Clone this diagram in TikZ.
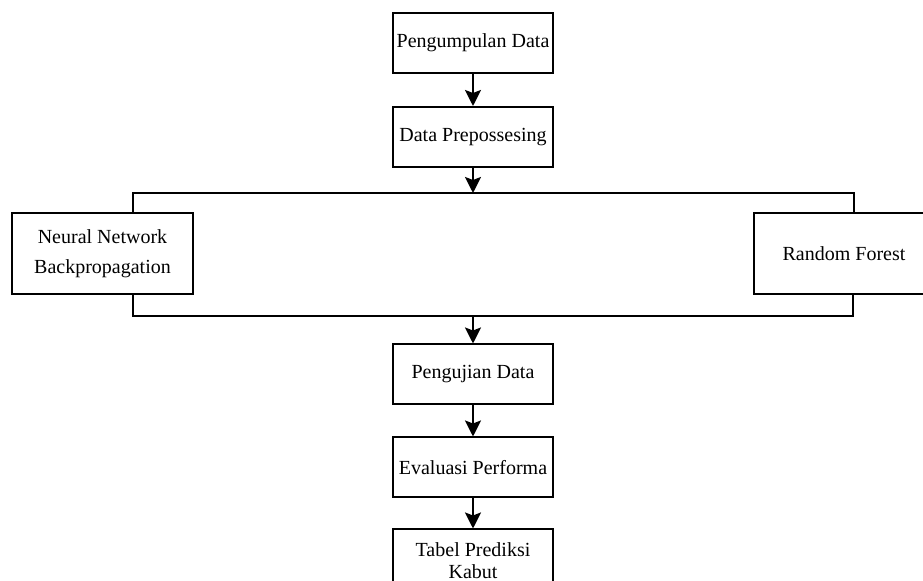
\documentclass[tikz,border=0pt]{standalone}
\usepackage{fontspec}
\setmainfont{Liberation Serif}
\usetikzlibrary{positioning,arrows.meta}

\begin{document}
\begin{tikzpicture}[x=0.5pt, y=-0.5pt, node distance=16pt,
  box/.style={draw, line width=1pt, minimum width=80pt, minimum height=30pt, align=center, inner sep=2pt, font=\fontsize{10}{15}\selectfont},
  garis/.style={line width=1pt},
  panah/.style={line width=1pt, -{Stealth[length=8pt, width=8pt, inset=1.5pt]}}]
  \useasboundingbox (0,0) rectangle (923,581);
  \node(kumpul)[box] at (473,43) {Pengumpulan Data};
  \node(prep)[box, below=of kumpul] {Data Prepossesing};
  \node(nn)[box, minimum width=90.5pt, minimum height=40.5pt] at (102.5,253.5) {Neural Network\\Backpropagation};
  \node(rf)[box, minimum width=90pt, minimum height=40.5pt] at (844,253.5) {Random Forest};
  \node(uji)[box] at (473,374.5) {Pengujian Data};
  \node(eval)[box, below=15.5pt of uji] {Evaluasi Performa};
  \node(tabel)[box, minimum height=31pt, below=15pt of eval, font=\fontsize{10}{11}\selectfont] {Tabel Prediksi\\Kabut};
  \coordinate(atas) at (473,193);
  \coordinate(bawah) at (473,316);
  \coordinate(kiriatas) at (133,193);
  \coordinate(kananatas) at (854,193);
  \coordinate(kiribawah) at (133,316);
  \coordinate(kananbawah) at (853,316);
  \draw[garis] (kiriatas |- nn.north) -- (kiriatas) -- (kananatas) -- (kananatas |- rf.north);
  \draw[garis] (kiribawah |- nn.south) -- (kiribawah) -- (kananbawah) -- (kananbawah |- rf.south);
  \draw[panah] (kumpul) -- (prep);
  \draw[panah] (prep) -- (atas);
  \draw[panah] (bawah) -- (uji);
  \draw[panah] (uji) -- (eval);
  \draw[panah] (eval) -- (tabel);
\end{tikzpicture}
\end{document}
